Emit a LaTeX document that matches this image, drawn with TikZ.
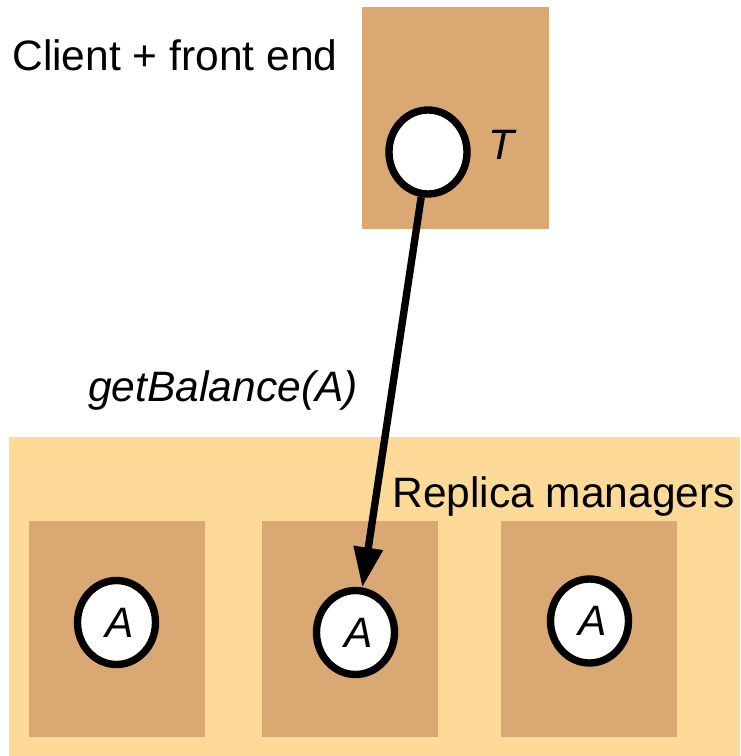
\documentclass[tikz,border=0pt]{standalone}
\usepackage{fontspec}
\setmainfont{Liberation Sans}
\usepackage{xcolor}
\usepackage{tikz}
\usetikzlibrary{shapes.geometric,arrows.meta}
\definecolor{boxtan}{RGB}{217,168,115}
\definecolor{boxlight}{RGB}{254,218,152}
\begin{document}
\begin{tikzpicture}[scale=0.2]
\tikzstyle{every node}+=[inner sep=0pt, font=\fontsize{24.2}{29}\selectfont]
\tikzstyle{obj}=[ellipse, draw=black, fill=white, line width=4.2pt, minimum width=1.56cm, minimum height=1.68cm]
\useasboundingbox (0,0) rectangle (74,-75.6);
\fill [boxlight] (0.9,-43.7) rectangle (74,-75.6);
\fill [boxtan] (36.2,-0.7) rectangle (54.9,-22.9);
\fill [boxtan] (2.9,-52.1) rectangle (20.5,-73.7);
\fill [boxtan] (26.2,-52.1) rectangle (43.8,-73.7);
\fill [boxtan] (50.1,-52.1) rectangle (67.7,-73.7);
\node [obj] (t) at (42.8,-15.2) {};
\node [obj] (a1) at (11.65,-62.25) {\hspace{0.12cm}\itshape A};
\node [obj] (a2) at (35.55,-63.25) {\hspace{0.12cm}\itshape A};
\node [obj] (a3) at (58.95,-62.1) {\hspace{0.12cm}\itshape A};
\node [anchor=base west] (tlabel) at (48.8,-16.0) {\itshape T};
\node [anchor=base west] (client) at (1.2,-7.1) {Client + front end};
\node [anchor=base west] (call) at (8.8,-40.1) {\itshape getBalance(A)};
\node [anchor=base west] (rm) at (39.2,-50.7) {Replica managers};
\draw [black, line width=4.2pt, -{Triangle[length=0.8cm,width=0.56cm]}] (t) -- (a2);
\end{tikzpicture}
\end{document}
